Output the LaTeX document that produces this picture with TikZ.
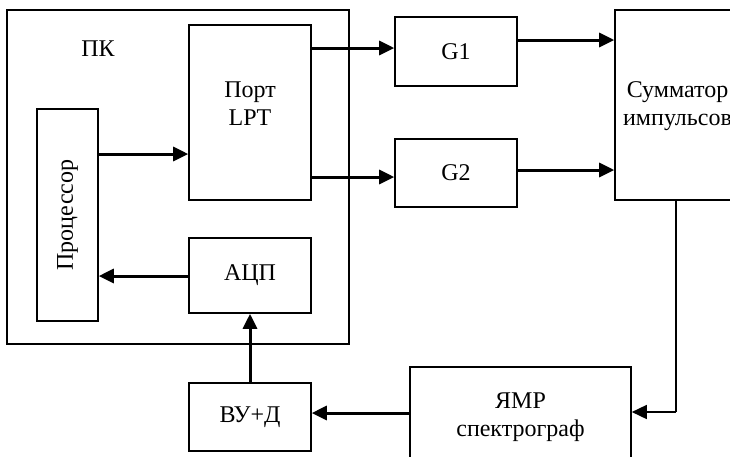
\documentclass[tikz,border=0pt]{standalone}
\usepackage{fontspec}
\setmainfont{Liberation Serif}
\usetikzlibrary{arrows.meta}
\newcommand{\twoline}[3]{\raisebox{#1}[\height][\depth]{\begin{tabular}{@{}c@{}}#2\\#3\end{tabular}}}
\begin{document}
\begin{tikzpicture}[x=1pt,y=-1pt,
  blk/.style={draw,line width=1.6pt,inner sep=0pt,align=center,font=\fontsize{24}{28}\selectfont},
  conn/.style={line width=3pt,-{Triangle[length=15pt,width=14pt]}},
  plain/.style={line width=1.6pt}]
\useasboundingbox (0,0) rectangle (730,456);
\clip (0,0) rectangle (730,456);
\node[blk,minimum width=342pt,minimum height=334pt] (pk) at (178,177) {};
\node[font=\fontsize{24}{28}\selectfont] (pklabel) at (98,49) {ПК};
\node[blk,minimum width=122pt,minimum height=175pt] (port) at (250,112.5) {\twoline{7pt}{Порт}{LPT}};
\node[blk,minimum width=61pt,minimum height=212pt] (proc) at (67.5,215) {\rotatebox{90}{Процессор}};
\node[blk,minimum width=122pt,minimum height=75pt] (adc) at (250,275.5) {АЦП};
\node[blk,minimum width=122pt,minimum height=69pt] (g1) at (456,51.5) {G1};
\node[blk,minimum width=122pt,minimum height=68pt] (g2) at (456,173) {G2};
\node[blk,minimum width=125pt,minimum height=190pt] (sum) at (677.5,105) {\twoline{-1pt}{Сумматор}{импульсов}};
\node[blk,minimum width=221pt,minimum height=103pt] (nmr) at (520.5,418.5) {\twoline{2pt}{ЯМР}{спектрограф}};
\node[blk,minimum width=122pt,minimum height=68pt] (vud) at (250,417) {ВУ+Д};
\draw[conn] (proc.east |- 0,154) -- (port.west |- 0,154);
\draw[conn] (port.east |- 0,48) -- (g1.west |- 0,48);
\draw[conn] (port.east |- 0,177) -- (g2.west |- 0,177);
\draw[conn] (g1.east |- 0,40) -- (sum.west |- 0,40);
\draw[conn] (g2.east |- 0,170) -- (sum.west |- 0,170);
\draw[conn] (adc.west |- 0,276) -- (proc.east |- 0,276);
\draw[conn] (vud.north) -- (adc.south);
\draw[conn] (nmr.west |- 0,413) -- (vud.east |- 0,413);
\draw[plain] (sum.south -| 676,0) -- (676,412) coordinate (turn);
\draw[conn,line width=1.6pt] (turn) -- (nmr.east |- turn);
\end{tikzpicture}
\end{document}
